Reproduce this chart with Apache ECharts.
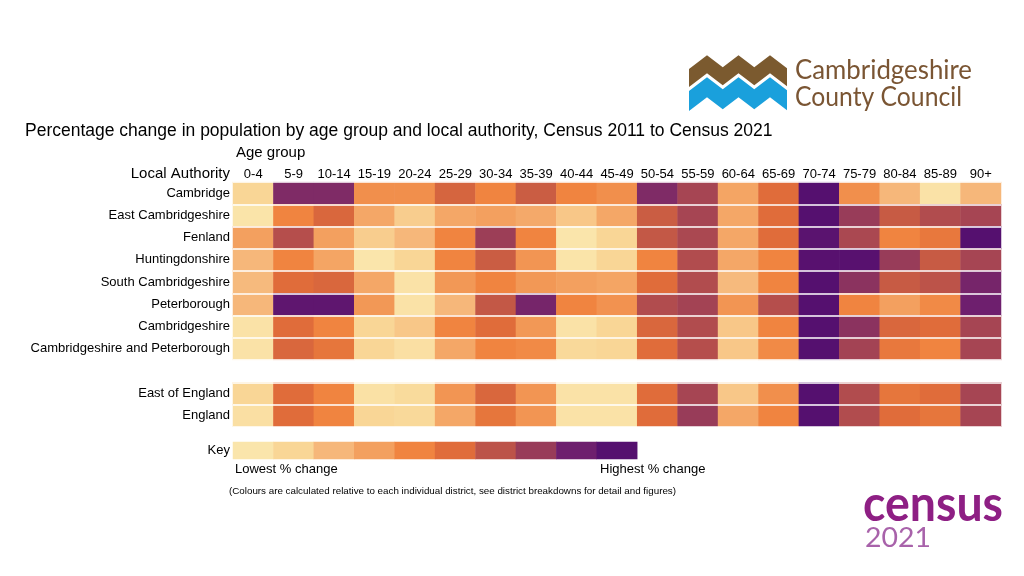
<!DOCTYPE html>
<html>
<head>
<meta charset="utf-8">
<script src="https://cdn.jsdelivr.net/npm/echarts@6/dist/echarts.min.js"></script>
<style>
  html, body { margin: 0; padding: 0; background: #ffffff; }
  #chart { width: 1024px; height: 576px; }
</style>
</head>
<body>
<div id="chart"></div>
<script>
// ---- Data (colour level 1 = lowest % change, 10 = highest % change) ----
const ageGroups = ['0-4','5-9','10-14','15-19','20-24','25-29','30-34','35-39','40-44','45-49',
                   '50-54','55-59','60-64','65-69','70-74','75-79','80-84','85-89','90+'];
const authorities = ['Cambridge','East Cambridgeshire','Fenland','Huntingdonshire','South Cambridgeshire',
                     'Peterborough','Cambridgeshire','Cambridgeshire and Peterborough','',
                     'East of England','England'];

const cambridge         = [2, 8.6, 8.6, 4.6, 4.6, 6.3, 5, 6.6, 5, 4.6, 8.6, 7.6, 3.8, 6, 10, 4.6, 3, 1.2, 3];
const eastCambs         = [1.1, 5, 6.2, 3.7, 2.3, 3.7, 4, 3.6, 2.5, 3.7, 6.6, 7.6, 3.7, 6, 10, 8, 6.7, 7.3, 7.6];
const fenland           = [4, 7.2, 4, 2.3, 3, 5, 7.9, 5, 1, 2, 6.8, 7.5, 3.7, 6, 9.8, 7.5, 5, 5.5, 10];
const huntingdonshire   = [3, 5, 3.8, 1, 2, 5, 6.6, 4.4, 1.1, 2, 5, 7.3, 3.7, 5, 9.9, 9.9, 8, 6.7, 7.6];
const southCambs        = [2.9, 6, 6.2, 3.7, 1.2, 4.3, 5, 4.3, 4, 3.8, 6, 7.3, 2.9, 5, 10, 8.3, 6.7, 7, 8.8];
const peterborough      = [3, 9.6, 9.6, 4.3, 1.2, 3, 6.8, 8.8, 5, 4.5, 7.3, 7.7, 4.4, 7.2, 10, 5, 4, 4.8, 9];
const cambridgeshire    = [1.2, 6, 5, 2, 2.5, 5, 6, 4.3, 1.2, 2, 6.2, 7.3, 2.5, 5, 10, 8.3, 6.2, 6, 7.6];
const cambsPeterborough = [1.2, 6.2, 5.6, 2, 1.4, 3.7, 5, 4.8, 1.8, 2, 6, 7.2, 2.5, 4.8, 10, 7.7, 5.5, 5, 7.6];
const gapRow            = null;
const eastOfEngland     = [2, 6, 5, 1.3, 1.7, 4.4, 6.2, 4.4, 1.2, 1.2, 6, 7.6, 2.5, 4.6, 10, 7.3, 5.6, 6, 7.6];
const england           = [1.4, 6, 5, 2, 1.8, 3.7, 5.6, 4.4, 1.2, 1.2, 6, 8, 3.7, 5, 10, 7.3, 6, 5.6, 7.6];

const keyLevels = [1, 2, 3, 4, 5, 6, 7, 8, 9, 10];
const keyColors = ['#fae5ab','#f9d696','#f6b77a','#f3a05f','#f08440','#e06c3a','#bc5349','#983c59','#6e1f6e','#55106f'];

// ---- Build heatmap data ----
const rows = [cambridge, eastCambs, fenland, huntingdonshire, southCambs, peterborough,
              cambridgeshire, cambsPeterborough, gapRow, eastOfEngland, england];
const heatData = [];
rows.forEach((r, ri) => { if (r) r.forEach((v, ci) => heatData.push([ci, ri, v])); });
const keyData = keyLevels.map((v, i) => [i, 0, v]);

// text-fitting helper for logo texts
const mctx = document.createElement('canvas').getContext('2d');
function fitScale(text, weight, size, family, width) {
  mctx.font = weight + ' ' + size + 'px ' + family;
  return width / mctx.measureText(text).width;
}

const FONT = '"Liberation Sans", Arial, sans-serif';
const LOGO_FONT = 'Lato, "Open Sans", sans-serif';

function zig(off) {
  return [[689, 69 + off], [707, 55.3 + off], [722.75, 67.3 + off], [738.5, 55.3 + off],
          [754.25, 67.3 + off], [770, 55.3 + off], [787, 68.3 + off]];
}
function band(top, thick) {
  const t = zig(top);
  const b = zig(top + thick).reverse();
  return t.concat(b);
}

const chart = echarts.init(document.getElementById('chart'));
chart.setOption({
  backgroundColor: '#ffffff',
  animation: false,
  grid: [
    { left: 233, top: 182, width: 768, height: 244.75, containLabel: false },
    { left: 233, top: 442, width: 404.2, height: 17, containLabel: false }
  ],
  xAxis: [
    { type: 'category', gridIndex: 0, data: ageGroups, position: 'top',
      axisLine: { show: false }, axisTick: { show: false }, splitLine: { show: false },
      axisLabel: { color: '#000', fontSize: 13, fontFamily: FONT, margin: 1, interval: 0 } },
    { type: 'category', gridIndex: 1, data: keyLevels.map(String), show: false }
  ],
  yAxis: [
    { type: 'category', gridIndex: 0, data: authorities, inverse: true, z: 5,
      axisLine: { show: false }, axisTick: { show: false },
      splitLine: { show: true, lineStyle: { color: '#ffffff', width: 1.5 } },
      axisLabel: { color: '#000', fontSize: 13, fontFamily: FONT, margin: 3, interval: 0, padding: [2, 0, 0, 0] } },
    { type: 'category', gridIndex: 1, data: ['Key'],
      axisLine: { show: false }, axisTick: { show: false }, splitLine: { show: false },
      axisLabel: { color: '#000', fontSize: 13, fontFamily: FONT, margin: 3, padding: [3, 0, 0, 0] } }
  ],
  visualMap: {
    type: 'continuous', show: false, min: 1, max: 10, dimension: 2,
    seriesIndex: [0, 1], inRange: { color: keyColors }
  },
  series: [
    { type: 'heatmap', xAxisIndex: 0, yAxisIndex: 0, data: heatData,
      itemStyle: { borderWidth: 0 }, emphasis: { disabled: true } },
    { type: 'heatmap', xAxisIndex: 1, yAxisIndex: 1, data: keyData,
      itemStyle: { borderWidth: 0 }, emphasis: { disabled: true } }
  ],
  graphic: [
    { type: 'text', x: 25, y: 131, style: { text: 'Percentage change in population by age group and local authority, Census 2011 to Census 2021',
        fontSize: 17.5, fontFamily: FONT, fill: '#000', verticalAlign: 'middle' } },
    { type: 'text', x: 236, y: 153, style: { text: 'Age group', fontSize: 15, fontFamily: FONT, fill: '#000', verticalAlign: 'middle' } },
    { type: 'text', x: 230, y: 174, style: { text: 'Local Authority', fontSize: 15, fontFamily: FONT, fill: '#000', align: 'right', verticalAlign: 'middle' } },
    { type: 'text', x: 235, y: 469, style: { text: 'Lowest % change', fontSize: 13, fontFamily: FONT, fill: '#000', verticalAlign: 'middle' } },
    { type: 'text', x: 600, y: 469, style: { text: 'Highest % change', fontSize: 13, fontFamily: FONT, fill: '#000', verticalAlign: 'middle' } },
    { type: 'text', x: 452.5, y: 491.5, style: { text: '(Colours are calculated relative to each individual district, see district breakdowns for detail and figures)',
        fontSize: 9.8, fontFamily: FONT, fill: '#000', align: 'center', verticalAlign: 'middle' } },
    // Cambridgeshire County Council logo
    { type: 'polygon', shape: { points: band(0, 18) }, style: { fill: '#7b5a2f' } },
    { type: 'polygon', shape: { points: band(22, 20) }, style: { fill: '#1aa0dc' } },
    { type: 'text', x: 795, y: 70.5, scaleX: fitScale('Cambridgeshire', 'normal', 26, LOGO_FONT, 177),
      style: { text: 'Cambridgeshire', fontSize: 26, fontFamily: LOGO_FONT, fill: '#7a5533', verticalAlign: 'middle' } },
    { type: 'text', x: 795, y: 98, scaleX: fitScale('County Council', 'normal', 26, LOGO_FONT, 167),
      style: { text: 'County Council', fontSize: 26, fontFamily: LOGO_FONT, fill: '#7a5533', verticalAlign: 'middle' } },
    // Census 2021 logo
    { type: 'text', x: 863, y: 505, scaleX: fitScale('census', 'bold', 50, LOGO_FONT, 140),
      style: { text: 'census', fontSize: 50, fontWeight: 'bold', fontFamily: LOGO_FONT, fill: '#8e1f84', verticalAlign: 'middle' } },
    { type: 'text', x: 865, y: 539, scaleX: fitScale('2021', 'normal', 26, LOGO_FONT, 66),
      style: { text: '2021', fontSize: 26, fontFamily: LOGO_FONT, fill: '#a862aa', verticalAlign: 'middle' } }
  ]
});
</script>
</body>
</html>
